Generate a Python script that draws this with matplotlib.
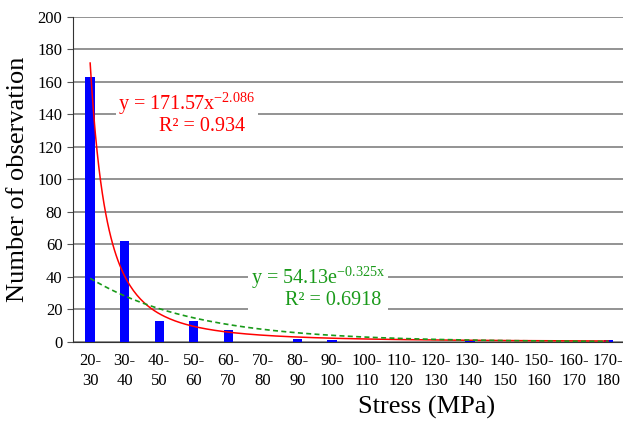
import numpy as np
import matplotlib
matplotlib.use("Agg")
import matplotlib.pyplot as plt

plt.rcParams['font.family'] = ['Liberation Serif', 'DejaVu Serif']
plt.rcParams['mathtext.fontset'] = 'custom'
plt.rcParams['mathtext.rm'] = 'Liberation Serif'

# ── data ──────────────────────────────────────────────────────────────────────
bins = ["20-\n30", "30-\n40", "40-\n50", "50-\n60", "60-\n70", "70-\n80",
        "80-\n90", "90-\n100", "100-\n110", "110-\n120", "120-\n130",
        "130-\n140", "140-\n150", "150-\n160", "160-\n170", "170-\n180"]
counts = [163, 62, 13, 13, 7, 0, 2, 1, 0, 0, 0, 0.5, 0, 0, 0, 1]

# fitted trend lines (as shown on chart)
pow_a, pow_b = 171.57, -2.086
exp_a, exp_b = 54.13, -0.325

# ── plot ──────────────────────────────────────────────────────────────────────
fig = plt.figure(figsize=(6.23, 4.21), dpi=100)
ax = fig.add_axes([0.117, 0.188, 0.887, 0.772])

x = np.arange(1, len(bins) + 1)
ax.bar(x, counts, width=0.27, color='#0000ff', zorder=3)

xf = np.linspace(1, len(bins), 300)
ax.plot(xf, pow_a * xf ** pow_b, color='red', lw=1.1, zorder=4)
ax.plot(xf, exp_a * np.exp(exp_b * xf), color='#1a9a1a', lw=1.2, ls=(0, (3, 2)), zorder=4)

ax.set_xlim(0.5, len(bins) + 0.5)
ax.set_ylim(0, 200)
ax.set_yticks(range(0, 201, 20))
ax.set_xticks(x)
ax.set_xticklabels(bins, fontsize=12, linespacing=1.3)
ax.tick_params(axis='x', length=0, pad=8)
ax.tick_params(axis='y', labelsize=12, length=4, color='#555555')
ax.yaxis.grid(True, color='#808080', lw=1.2, zorder=0)

for s in ('top', 'right'):
    ax.spines[s].set_visible(False)
ax.spines['left'].set_color('#333333')
ax.spines['bottom'].set_color('#333333')

ax.set_ylabel("Number of observation", fontsize=19, labelpad=6)
ax.set_xlabel("Stress (MPa)", fontsize=19, labelpad=2)
ax.xaxis.set_label_coords(0.64, -0.165)

ax.text(3.8, 141,
        "y = 171.57x$^{\\mathregular{-2.086}}$\n      R² = 0.934",
        color='red', fontsize=14.5, ha='center', va='center', linespacing=1.0,
        bbox=dict(facecolor='white', edgecolor='none', pad=2), zorder=5)
ax.text(7.6, 34,
        "y = 54.13e$^{\\mathregular{-0.325x}}$\n      R² = 0.6918",
        color='#1a9a1a', fontsize=14.5, ha='center', va='center', linespacing=1.0,
        bbox=dict(facecolor='white', edgecolor='none', pad=2), zorder=5)

fig.savefig("out.png", dpi=100)
